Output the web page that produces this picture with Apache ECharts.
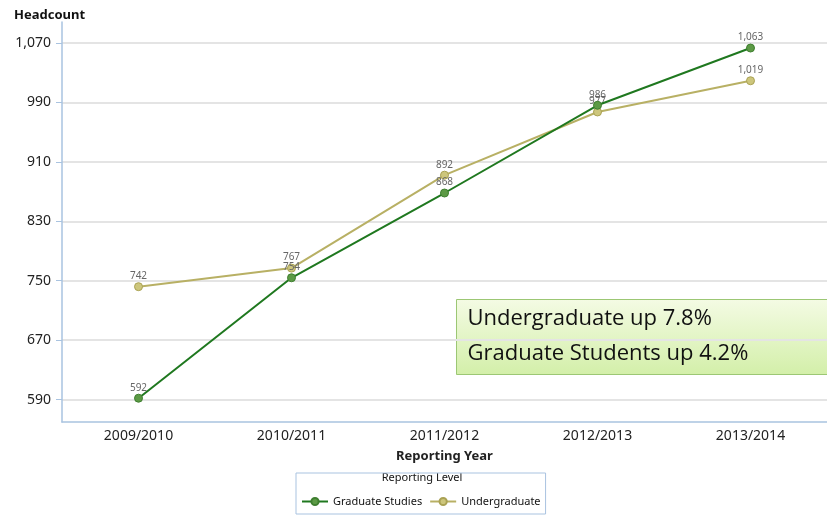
<!DOCTYPE html>
<html>
<head>
<meta charset="utf-8">
<script src="https://cdn.jsdelivr.net/npm/echarts@6/dist/echarts.min.js"></script>
<style>
  html, body { margin: 0; padding: 0; background: #fff; }
  #chart { width: 827px; height: 516px; }
</style>
</head>
<body>
<div id="chart"></div>
<script>
// data
const years = ['2009/2010', '2010/2011', '2011/2012', '2012/2013', '2013/2014']
const graduate = [592, 754, 868, 986, 1063]
const undergraduate = [742, 767, 892, 977, 1019]
const yTicks = [590, 670, 750, 830, 910, 990, 1070]
const noteLines = ['Undergraduate up 7.8%', 'Graduate Students up 4.2%']

const GRAD_LINE = '#1f781f'
const GRAD_DOT = '#5c9a45'
const UG_LINE = '#b8b064'
const UG_DOT = '#cdc67c'
const AXIS = '#a9c3e0'

const chart = echarts.init(document.getElementById('chart'), null, { renderer: 'canvas' })

const fmt = v => v.toLocaleString('en-US')

chart.setOption({
  animation: false,
  backgroundColor: '#fff',
  textStyle: { fontFamily: 'Noto Sans, DejaVu Sans, sans-serif' },
  grid: { left: 62, right: -8, top: 22, bottom: 94 },
  title: {
    text: 'Headcount', left: 9, top: 4,
    textStyle: { fontSize: 13, fontWeight: 'bold', color: '#111' },
  },
  xAxis: {
    type: 'category',
    data: years,
    boundaryGap: true,
    name: 'Reporting Year',
    nameLocation: 'middle',
    nameGap: 28,
    nameTextStyle: { fontSize: 13, fontWeight: 'bold', color: '#222' },
    axisLine: { lineStyle: { color: AXIS, width: 1.5 } },
    axisTick: { show: false },
    axisLabel: { fontSize: 14, color: '#222', margin: 7 },
  },
  yAxis: {
    type: 'value',
    min: 560,
    max: 1098,
    axisLine: { show: true, lineStyle: { color: AXIS, width: 1.5 } },
    axisTick: { show: true, length: 6, customValues: yTicks, lineStyle: { color: AXIS } },
    axisLabel: { customValues: yTicks, fontSize: 14, color: '#222', margin: 11, formatter: fmt },
    splitLine: { lineStyle: { color: '#e4e4e4', width: 2 } },
  },
  legend: {
    bottom: 2,
    left: 296,
    itemWidth: 26,
    itemHeight: 9,
    itemGap: 7,
    padding: [23, 5, 7, 5],
    borderColor: AXIS,
    borderWidth: 1,
    textStyle: { fontSize: 11, color: '#111' },
    data: ['Graduate Studies', 'Undergraduate'],
  },
  graphic: [
    {
      type: 'text', x: 422, y: 472,
      style: { text: 'Reporting Level', fontSize: 11, fill: '#111', fontFamily: 'Noto Sans', align: 'center' },
    },
    {
      type: 'group', left: 456, top: 299,
      children: [
        {
          type: 'rect', shape: { x: 0, y: 0, width: 380, height: 75 },
          style: {
            fill: new echarts.graphic.LinearGradient(0, 0, 0, 1, [
              { offset: 0, color: '#f4fbe4' },
              { offset: 1, color: '#d3efa9' },
            ]),
            stroke: '#9cc774', lineWidth: 1,
          },
        },
        {
          type: 'text', x: 11, y: 2,
          style: { text: noteLines.join('\n'), fontSize: 22, lineHeight: 35, fill: '#111', fontFamily: 'Open Sans' },
        },
      ],
    },
  ],
  series: [
    {
      name: 'Graduate Studies',
      type: 'line',
      data: graduate,
      symbol: 'circle',
      symbolSize: 8,
      lineStyle: { color: GRAD_LINE, width: 2 },
      itemStyle: { color: GRAD_DOT, borderColor: '#3f7f30', borderWidth: 1 },
      label: { show: true, position: 'top', distance: 1, fontSize: 10, color: '#666', formatter: p => fmt(p.value) },
      z: 3,
    },
    {
      name: 'Undergraduate',
      type: 'line',
      data: undergraduate,
      symbol: 'circle',
      symbolSize: 8,
      lineStyle: { color: UG_LINE, width: 2 },
      itemStyle: { color: UG_DOT, borderColor: '#aaa254', borderWidth: 1 },
      label: { show: true, position: 'top', distance: 1, fontSize: 10, color: '#666', formatter: p => fmt(p.value) },
      z: 2,
    },
  ],
})
</script>
</body>
</html>
